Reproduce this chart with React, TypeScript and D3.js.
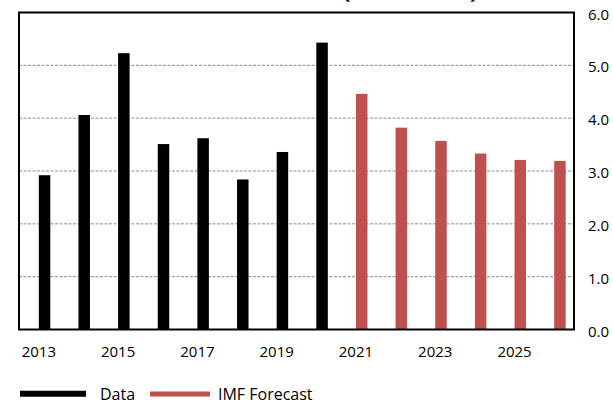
import React from "react";
import * as d3 from "d3";

const years = [2013, 2014, 2015, 2016, 2017, 2018, 2019, 2020, 2021, 2022, 2023, 2024, 2025, 2026];
const dataValues = [2.92, 4.06, 5.23, 3.51, 3.62, 2.84, 3.36, 5.43, null, null, null, null, null, null];
const forecastValues = [null, null, null, null, null, null, null, null, 4.46, 3.82, 3.57, 3.33, 3.21, 3.19];
const yTicks = [0, 1, 2, 3, 4, 5, 6];
const xTickYears = [2013, 2015, 2017, 2019, 2021, 2023, 2025];
const seriesNames = ["Data", "IMF Forecast"];
const titleMain = "Inflation Rate";
const titleUnit = "Percent";

const W = 613;
const H = 401;
const FONT = "'Open Sans', sans-serif";
const BLACK = "#000000";
const RED = "#C0504D";

export default function App() {
  const left = 19, right = 574, top = 12.5, bottom = 329.5;
  const x = d3.scaleBand<number>().domain(years).range([left, right]).padding(0);
  const y = d3.scaleLinear().domain([0, 6]).range([bottom, top]);
  const bw = x.bandwidth();
  const barW = bw * 0.29;

  const bars: { year: number; v: number; color: string }[] = [];
  years.forEach((yr, i) => {
    const d = dataValues[i];
    const f = forecastValues[i];
    if (d != null) bars.push({ year: yr, v: d, color: BLACK });
    if (f != null) bars.push({ year: yr, v: f, color: RED });
  });

  const titleY = -1.8;
  return (
    <svg width={W} height={H} style={{ position: "absolute", left: 0, top: 0, background: "#fff" }}>
      <rect x={0} y={0} width={W} height={H} fill="#fff" />
      <g fontFamily={FONT} fontWeight="bold" fontSize={22} fill="#000">
        <text x={336} y={titleY} textAnchor="end">{titleMain}</text>
        <text x={343} y={titleY}>(</text>
        <text x={411} y={titleY} textAnchor="middle">{titleUnit}</text>
        <text x={470} y={titleY}>)</text>
      </g>
      {yTicks.filter((t) => t > 0 && t < 6).map((t) => (
        <line key={t} x1={left} x2={right} y1={y(t)} y2={y(t)} stroke="#8c8c8c" strokeWidth={1} strokeDasharray="3,1.5" />
      ))}
      {bars.map((b) => (
        <rect key={b.year} x={(x(b.year) as number) + bw / 2} y={y(b.v)} width={barW} height={y(0) - y(b.v)} fill={b.color} />
      ))}
      <rect x={left} y={top} width={right - left} height={bottom - top} fill="none" stroke="#000" strokeWidth={2} />
      {yTicks.map((t) => (
        <text key={t} x={588} y={y(t) + 1} dominantBaseline="central" fontFamily={FONT} fontSize={15} fill="#000">
          {t.toFixed(1)}
        </text>
      ))}
      {xTickYears.map((yr) => (
        <text key={yr} x={(x(yr) as number) + bw / 2} y={357} textAnchor="middle" fontFamily={FONT} fontSize={15} fill="#000">
          {yr}
        </text>
      ))}
      <g>
        <line x1={20} x2={86} y1={393.7} y2={393.7} stroke={BLACK} strokeWidth={6} />
        <text x={100} y={399.5} fontFamily={FONT} fontSize={16} fill="#000">{seriesNames[0]}</text>
        <line x1={150} x2={210} y1={394} y2={394} stroke={RED} strokeWidth={5} />
        <text x={218} y={399.5} fontFamily={FONT} fontSize={16} fill="#000">{seriesNames[1]}</text>
      </g>
    </svg>
  );
}
